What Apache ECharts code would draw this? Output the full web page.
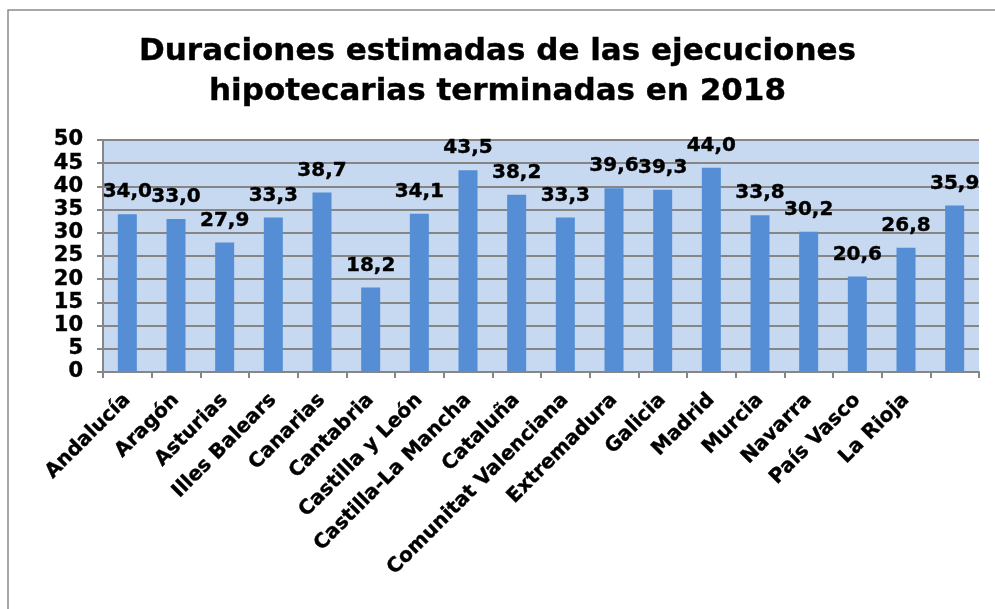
<!DOCTYPE html>
<html>
<head>
<meta charset="utf-8">
<script src="https://cdn.jsdelivr.net/npm/echarts@6/dist/echarts.min.js"></script>
<style>
  html, body { margin: 0; padding: 0; background: #fff; }
  #chart { width: 995px; height: 609px; }
</style>
</head>
<body>
<div id="chart"></div>
<script>
// categorías (la última barra no tiene etiqueta en el original)
const regiones = [
  "Andalucía", "Aragón", "Asturias", "Illes Balears", "Canarias", "Cantabria",
  "Castilla y León", "Castilla-La Mancha", "Cataluña", "Comunitat Valenciana",
  "Extremadura", "Galicia", "Madrid", "Murcia", "Navarra", "País Vasco", "La Rioja", ""
];
// duraciones estimadas
const duraciones = [34.0, 33.0, 27.9, 33.3, 38.7, 18.2, 34.1, 43.5, 38.2, 33.3,
  39.6, 39.3, 44.0, 33.8, 30.2, 20.6, 26.8, 35.9];
const titulo = "Duraciones estimadas de las ejecuciones\nhipotecarias terminadas en 2018";

const chart = echarts.init(document.getElementById("chart"));
const FONT = "DejaVu Sans";

// texto negrita algo más grueso, como en el original
const negrita = {
  color: "#000",
  fontFamily: FONT,
  fontWeight: "bold",
  textBorderColor: "#000",
  textBorderWidth: 0.4
};

const option = {
  animation: false,
  backgroundColor: "#fff",
  // marco exterior gris
  graphic: [{
    type: "rect",
    shape: { x: 8, y: 10, width: 1000, height: 620 },
    style: { fill: "none", stroke: "#8c8c8c", lineWidth: 1.5 },
    silent: true
  }],
  title: {
    text: titulo,
    left: "center",
    top: 27,
    textStyle: Object.assign({}, negrita, { fontSize: 31, lineHeight: 40 })
  },
  grid: {
    left: 103,
    right: 16,
    top: 140,
    bottom: 237,
    show: true,
    backgroundColor: "#c6d9f1",
    borderWidth: 0
  },
  xAxis: {
    type: "category",
    data: regiones,
    axisLine: { lineStyle: { color: "#868686", width: 2 } },
    axisTick: { show: true, length: 6, lineStyle: { color: "#868686", width: 2 } },
    axisLabel: Object.assign({}, negrita, {
      rotate: 45,
      interval: 0,
      margin: 25,
      fontSize: 20
    })
  },
  yAxis: {
    type: "value",
    min: 0,
    max: 50,
    interval: 5,
    axisLine: { show: true, lineStyle: { color: "#868686", width: 2 } },
    axisTick: { show: true, length: 6, lineStyle: { color: "#868686", width: 2 } },
    splitLine: { lineStyle: { color: "#868686", width: 2 } },
    axisLabel: Object.assign({}, negrita, { margin: 20, fontSize: 21 })
  },
  series: [{
    type: "bar",
    data: duraciones,
    barWidth: 19,
    itemStyle: { color: "#558ed5" },
    label: Object.assign({}, negrita, {
      show: true,
      position: "top",
      distance: 12,
      fontSize: 20,
      formatter: p => p.value.toFixed(1).replace(".", ",")
    })
  }]
};

chart.setOption(option);
</script>
</body>
</html>
